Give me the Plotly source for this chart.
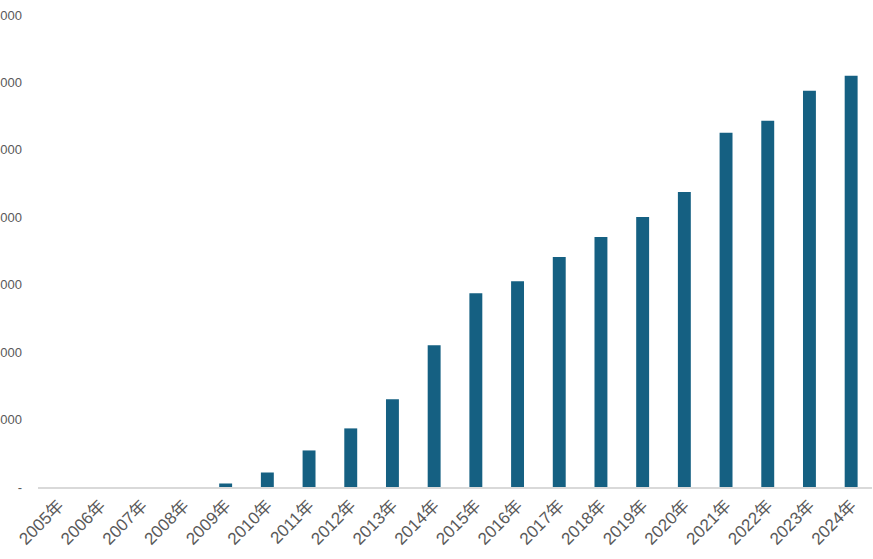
import plotly.graph_objects as go

years = ["2005年", "2006年", "2007年", "2008年", "2009年", "2010年", "2011年",
         "2012年", "2013年", "2014年", "2015年", "2016年", "2017年", "2018年",
         "2019年", "2020年", "2021年", "2022年", "2023年", "2024年"]
values = [0, 0, 0, 0, 52, 215, 542, 869, 1300, 2102, 2875, 3053, 3410, 3707,
          4004, 4376, 5253, 5431, 5877, 6100]

y_tickvals = [0, 1000, 2000, 3000, 4000, 5000, 6000, 7000]
y_ticktext = ["-", "1,000", "2,000", "3,000", "4,000", "5,000", "6,000", "7,000"]

fig = go.Figure(go.Bar(x=years, y=values, marker_color="#156082", marker_line_width=0))

fig.update_layout(
    template="none",
    width=873, height=559,
    margin=dict(l=38, r=1, t=15, b=72),
    paper_bgcolor="white", plot_bgcolor="white",
    bargap=0.69,
    showlegend=False,
    font=dict(family="Liberation Sans, Arial, Noto Sans CJK SC, sans-serif", color="#595959"),
)
fig.update_xaxes(
    type="category", tickangle=-45, tickfont=dict(size=17, color="#595959"),
    showline=True, linecolor="#D9D9D9", linewidth=2, showgrid=False, zeroline=False,
    ticks="", automargin=False, ticklabeloverflow="allow",
)
fig.update_yaxes(
    range=[0, 7000], tickvals=y_tickvals, ticktext=y_ticktext,
    tickfont=dict(size=13, color="#595959"), showgrid=False, zeroline=False,
    showline=False, ticks="", automargin=False, ticklabelstandoff=15,
    ticklabeloverflow="allow",
)

fig.write_html("out.html", config={"displayModeBar": False},
               post_script="document.body.style.margin='0';")
